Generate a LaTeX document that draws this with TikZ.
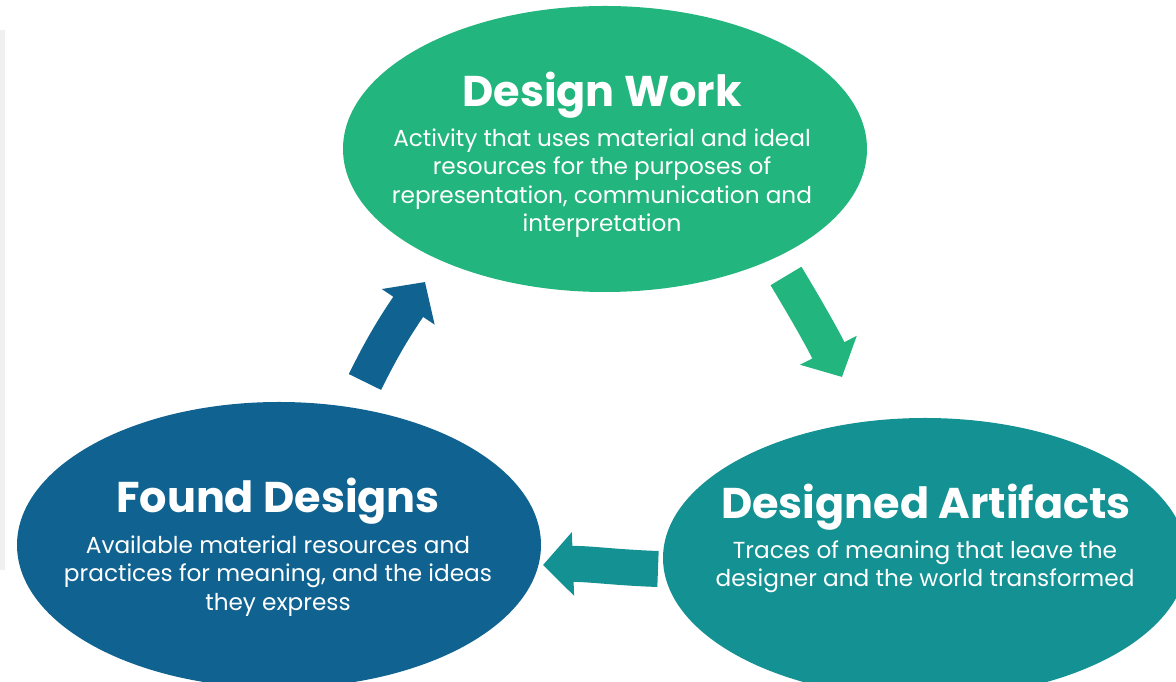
\documentclass[tikz,border=0pt]{standalone}
\usepackage{fontspec}
\setmainfont{Poppins}
\usetikzlibrary{shapes.geometric,arrows.meta}

\definecolor{workgreen}{HTML}{22B57E}
\definecolor{foundblue}{HTML}{106391}
\definecolor{artteal}{HTML}{149193}

\begin{document}
\begin{tikzpicture}[x=1pt, y=1pt,
    blob/.style={ellipse, inner sep=0pt, minimum width=524pt, minimum height=286pt},
    headline/.style={text=white, font=\fontsize{43}{48}\selectfont\bfseries},
    blurb/.style={text=white, align=center, font=\fontsize{23.2}{28.5}\selectfont},
    flow/.style={line width=36pt, -{Triangle[length=30pt, width=62pt]}}]
  \useasboundingbox (0,0) rectangle (1176,682);
  \clip (0,0) rectangle (1176,682);
  \fill [gray!12] (0,112) rectangle (5,652);

  % the three stages
  \node [blob, fill=workgreen] (work) at (605,533) {};
  \node [blob, fill=foundblue] (found) at (279,137) {};
  \node [blob, fill=artteal, minimum height=280pt] (artifacts) at (925,124) {};

  \node [headline] (work-title) at (602,587) {Design Work};
  \node [blurb, anchor=north] (work-text) at (602,557)
    {Activity that uses material and ideal\\ resources for the purposes of\\
     representation, communication and\\ interpretation};
  \node [headline] (found-title) at (278,181) {Found Designs};
  \node [blurb, anchor=north] (found-text) at (278,150)
    {Available material resources and\\ practices for meaning, and the ideas\\ they express};
  \node [headline] (artifacts-title) at (926,175) {Designed Artifacts};
  \node [blurb, anchor=north] (artifacts-text) at (925,145)
    {Traces of meaning that leave the\\ designer and the world transformed};

  % arrows round the cycle
  \coordinate (found-out) at (365,300);
  \coordinate (work-in) at (425,400);
  \coordinate (work-out) at (786,406);
  \coordinate (artifacts-in) at (842,305);
  \coordinate (artifacts-out) at (658,113);
  \coordinate (found-in) at (543,117);
  \draw [flow, foundblue] (found-out) to[out=64, in=236] (work-in);
  \draw [flow, workgreen] (work-out) to[out=-59, in=117] (artifacts-in);
  \draw [flow, artteal] (artifacts-out) to[out=178, in=2] (found-in);
\end{tikzpicture}
\end{document}
